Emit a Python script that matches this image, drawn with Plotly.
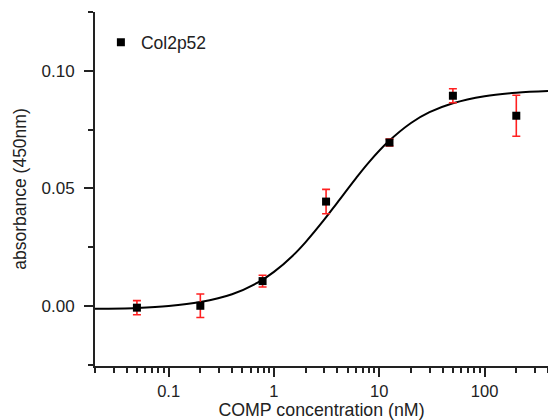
import plotly.graph_objects as go

# measured data
conc = [0.05, 0.2, 0.78, 3.125, 12.5, 50, 200]
absorb = [-0.0007, 0.0001, 0.0106, 0.0444, 0.0695, 0.0894, 0.0809]
err = [0.003, 0.005, 0.0025, 0.0052, 0.0015, 0.003, 0.0087]

# fitted curve
fit_x = [0.02, 0.05, 0.1, 0.2, 0.4, 0.7, 1, 1.5, 2, 3, 4, 6, 8, 12, 20, 30, 50, 100, 200, 400]
fit_y = [-0.0012, -0.0008, 0.0000, 0.0017, 0.0050, 0.0099, 0.0145, 0.0213, 0.0272, 0.0367,
         0.0440, 0.0543, 0.0612, 0.0696, 0.0778, 0.0824, 0.0862, 0.0892, 0.0907, 0.0914]

x_ticks = [0.1, 1, 10, 100]
x_ticklabels = ["0.1", "1", "10", "100"]
x_minor = [m * 10 ** e for e in range(-2, 3) for m in range(2, 10)]
y_ticks = [0.0, 0.05, 0.10]
y_ticklabels = ["0.00", "0.05", "0.10"]

fig = go.Figure()
fig.add_trace(go.Scatter(x=fit_x, y=fit_y, mode="lines", line=dict(color="black", width=2, shape="spline"),
                         showlegend=False, hoverinfo="skip"))
fig.add_trace(go.Scatter(x=conc, y=absorb, mode="markers", name="Col2p52",
                         marker=dict(symbol="square", size=8, color="black"),
                         error_y=dict(type="data", array=err, visible=True, color="#ff2020", thickness=1.6, width=4)))

fig.update_layout(
    width=548, height=420,
    margin=dict(l=95, r=0, t=12, b=54),
    paper_bgcolor="white", plot_bgcolor="white",
    font=dict(family="Liberation Sans, Arial, sans-serif", size=17, color="#222"),
    showlegend=True,
    legend=dict(x=0.013, y=0.965, xanchor="left", yanchor="top", bgcolor="rgba(0,0,0,0)",
                font=dict(size=17.5), itemwidth=30),
)
fig.update_xaxes(
    type="log", range=[-1.699, 2.602], automargin=False,
    tickmode="array", tickvals=x_ticks, ticktext=x_ticklabels, tickfont=dict(size=16.5),
    ticks="outside", ticklen=9, tickwidth=2, tickcolor="#222",
    showline=True, linecolor="#222", linewidth=2, showgrid=False, zeroline=False,
    minor=dict(tickmode="array", tickvals=x_minor, ticks="outside", ticklen=5, tickwidth=2, tickcolor="#222", showgrid=False),
    title=dict(text="COMP concentration (nM)", standoff=2, font=dict(size=17.8)),
)
fig.update_yaxes(
    range=[-0.0255, 0.125], automargin=False,
    tickmode="array", tickvals=y_ticks, ticktext=y_ticklabels,
    ticks="outside", ticklen=9, tickwidth=2, tickcolor="#222", ticklabelstandoff=6,
    showline=True, linecolor="#222", linewidth=2, showgrid=False, zeroline=False,
    minor=dict(tickmode="array", tickvals=[-0.025, 0.025, 0.075, 0.125], ticks="outside", ticklen=5, tickwidth=2,
               tickcolor="#222", showgrid=False),
    title=dict(text="absorbance (450nm)", standoff=10, font=dict(size=17.5)),
)

fig.write_html("out.html", config={"displayModeBar": False},
               post_script="document.body.style.margin='0';document.body.style.overflow='hidden';")
